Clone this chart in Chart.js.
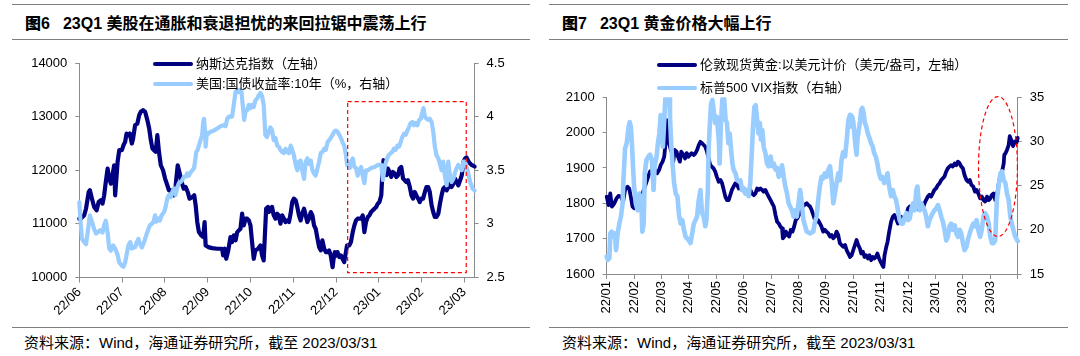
<!DOCTYPE html>
<html><head><meta charset="utf-8">
<script src="https://cdn.jsdelivr.net/npm/chart.js@4.4.1/dist/chart.umd.min.js"></script>
<style>
html,body{margin:0;padding:0;background:#fff;}
body{width:1080px;height:356px;position:relative;overflow:hidden;font-family:"Liberation Sans","Noto Sans CJK SC",sans-serif;color:#000;}
.rule{position:absolute;height:0;border-top:1.5px solid #7f7f7f;}
.title{position:absolute;font-weight:bold;font-size:16px;line-height:20px;white-space:nowrap;}
.title b{margin-right:13px;}
.foot{position:absolute;font-size:15px;line-height:18px;white-space:nowrap;}
canvas{position:absolute;}
.leg{position:absolute;font-size:13px;line-height:16px;white-space:nowrap;display:flex;align-items:center;}
.leg i{display:inline-block;width:40px;height:3.5px;border-radius:2px;margin-right:3px;}
</style></head>
<body>
<div class="rule" style="left:12px;width:518px;top:4px"></div>
<div class="title" style="left:25px;top:14px"><b>图6</b>23Q1 美股在通胀和衰退担忧的来回拉锯中震荡上行</div>
<div class="rule" style="left:12px;width:518px;top:39px"></div>
<div class="rule" style="left:12px;width:518px;top:327px"></div>
<div class="foot" style="left:24px;top:334px">资料来源：Wind，海通证券研究所，截至 2023/03/31</div>

<div class="rule" style="left:549px;width:519px;top:4px"></div>
<div class="title" style="left:562px;top:14px"><b>图7</b>23Q1 黄金价格大幅上行</div>
<div class="rule" style="left:549px;width:519px;top:39px"></div>
<div class="rule" style="left:549px;width:519px;top:327px"></div>
<div class="foot" style="left:562px;top:334px">资料来源：Wind，海通证券研究所，截至 2023/03/31</div>

<canvas id="c1" width="540" height="282" style="left:0;top:45px"></canvas>
<canvas id="c2" width="540" height="282" style="left:540px;top:45px"></canvas>

<div class="leg" style="left:153px;top:56px"><i style="background:#000080"></i>纳斯达克指数（左轴）</div>
<div class="leg" style="left:153px;top:76px"><i style="background:#99ccff"></i>美国:国债收益率:10年（%，右轴）</div>
<div class="leg" style="left:657px;top:57px"><i style="background:#000080"></i>伦敦现货黄金:以美元计价（美元/盎司，左轴）</div>
<div class="leg" style="left:657px;top:80px"><i style="background:#99ccff"></i>标普500 VIX指数（右轴）</div>

<script>
// ---------- Figure 6 data (x = trading day index from start) ----------
const leftTickDays = [0,21,42,63,84,105,126,147,168,189];
const leftTickLabels = ['22/06','22/07','22/08','22/09','22/10','22/11','22/12','23/01','23/02','23/03'];

const nasdaqDay = [0,0.8,2.4,3.3,4.6,5.2,6.2,7.3,8.5,9.5,10.6,11.4,12.2,13.0,13.9,14.7,15.5,16.3,17.1,17.6,18.8,19.6,20.9,21.7,22.5,23.2,24.1,24.8,25.8,26.4,27.4,28.5,29.4,30.2,31.3,32.3,33.4,34.3,35.1,35.9,36.7,37.5,38.3,39.1,40.0,41.1,42.1,43.2,44.0,45.3,46.5,47.3,48.3,49.3,50.2,51.2,52.2,53.2,54.1,55.5,56.4,57.1,57.9,58.7,59.9,60.8,61.5,62.0,63.3,65.2,67.7,70.1,70.6,71.4,72.1,73.1,74.2,75.0,75.8,76.7,77.5,78.3,79.1,79.9,80.7,81.6,82.4,83.2,84.0,84.8,85.6,86.4,87.7,88.9,89.7,90.5,91.0,91.7,92.6,93.0,93.8,94.6,95.4,96.3,97.1,97.9,98.7,99.6,100.4,101.2,102.0,102.9,103.7,104.5,105.3,106.2,107.0,107.8,108.6,109.4,110.3,111.1,111.9,112.7,113.6,114.4,115.2,116.0,116.9,117.7,118.5,119.3,120.2,121.0,121.8,122.6,123.4,124.3,124.8,125.4,126.1,126.7,127.6,128.4,129.2,130.0,130.7,131.4,132.5,133.3,134.2,135.0,135.8,136.6,138.3,139.1,139.9,140.7,141.6,142.4,143.2,144.0,144.9,145.7,146.5,147.3,148.2,148.6,149.3,150.1,150.8,151.4,152.3,153.1,153.9,154.7,155.6,156.4,157.2,158.0,158.9,159.7,160.5,161.3,162.2,163.0,163.8,164.6,165.4,166.3,167.1,167.9,168.7,169.6,170.4,171.2,172.0,172.9,173.7,174.5,175.3,176.2,177.0,177.8,178.6,179.4,180.3,181.1,181.9,182.7,183.6,184.4,185.2,186.0,186.9,187.7,188.5,189.3,190.0,191.2,192.5,194.0];
const nasdaqVal = [11097,11100,11160,11283,11595,11626,11470,11315,11252,11408,11440,11377,11533,11782,12031,11844,11750,11907,12093,11533,12156,12374,12374,12467,12530,12685,12654,12685,12498,12592,12841,12872,13028,13090,13121,13090,12935,12779,12561,12405,12374,12343,12654,12343,12093,12000,11844,11720,11626,11626,11533,11720,12093,11938,11782,11657,11688,11595,11470,11502,11533,11346,11034,10847,10785,10754,11034,10598,10567,10548,10536,10536,10411,10536,10349,10505,10754,10660,10785,10692,10847,10879,10910,11190,10972,11097,11097,11065,10972,10660,10349,10505,10536,10598,10411,10318,10723,11284,11315,11221,11252,11315,11159,11097,11190,11159,11003,11159,11097,11034,11065,11034,11190,11408,11470,11440,11315,11159,11065,11190,11284,11159,11034,11097,11221,11159,10972,10910,10723,10567,10505,10692,10536,10474,10474,10505,10411,10193,10349,10474,10411,10474,10380,10411,10349,10287,10443,10598,10598,10660,10847,10972,11065,11097,11097,11159,10847,11034,11128,11159,11221,11252,11284,11315,11377,11408,11533,11844,12187,12062,11907,12031,11969,11875,11969,11938,11875,11907,12031,12062,11844,11813,11782,11813,11688,11533,11470,11595,11533,11470,11408,11470,11470,11595,11688,11688,11595,11346,11221,11128,11128,11190,11377,11533,11657,11688,11626,11688,11750,11688,11750,11844,11782,11720,11813,11907,12156,12218,12240,12150,12100,12070];

const yieldDay = [0,0.5,1.3,2.4,3.3,4.1,5.2,6.2,7.3,8.2,9.0,10.1,11.4,12.2,13.0,13.9,14.7,15.5,16.6,17.6,18.8,19.6,20.9,21.7,22.5,23.3,24.1,25.0,25.8,26.6,27.4,28.2,29.0,29.8,30.7,31.8,32.6,33.9,34.7,35.6,36.4,37.2,37.8,38.8,39.5,40.4,41.6,42.4,43.2,44.0,44.9,45.7,46.5,47.3,48.1,48.9,49.7,50.6,51.4,52.2,53.0,53.8,54.6,55.5,56.3,56.8,57.4,58.1,58.7,59.5,60.3,60.8,61.2,61.7,62.0,62.5,63.3,64.4,66.1,67.7,69.3,70.9,71.8,72.6,73.4,75.0,75.8,76.7,77.5,78.3,79.1,79.6,80.2,80.9,81.6,82.4,83.2,84.0,84.8,85.6,86.4,87.3,88.1,88.9,89.7,90.5,91.3,92.1,93.0,93.8,94.6,95.4,96.3,97.1,97.9,98.7,99.6,100.4,101.2,102.0,102.9,103.7,104.5,105.3,106.2,107.0,107.8,108.6,109.4,110.3,111.1,111.9,112.7,113.6,114.4,115.2,116.0,116.9,117.7,118.5,119.3,120.2,121.0,121.8,122.6,123.4,124.3,125.1,125.9,126.7,127.6,128.4,129.2,130.0,130.9,131.4,132.0,132.7,133.3,134.2,135.0,135.8,136.6,137.4,138.3,139.1,139.9,140.7,141.6,143.2,144.9,146.5,148.2,149.0,149.5,150.1,151.1,151.8,152.8,153.6,154.4,155.2,156.1,156.9,157.7,158.5,159.4,160.2,161.0,161.8,162.6,163.5,164.3,165.1,165.9,166.8,167.6,168.2,168.9,169.6,170.4,171.2,172.0,172.9,173.7,174.5,175.3,176.2,177.0,177.8,178.6,179.4,180.3,181.1,181.9,182.7,183.6,184.4,185.2,186.0,186.9,187.7,188.5,189.3,190.5,192.0,193.0,194.0];
const yieldVal = [3.20,3.05,2.86,2.83,2.81,2.92,3.08,3.02,2.95,2.91,2.92,2.94,2.92,2.99,3.03,2.92,2.77,2.75,2.80,2.77,2.71,2.64,2.61,2.60,2.64,2.72,2.80,2.83,2.77,2.78,2.78,2.83,2.86,2.81,2.78,2.83,2.88,2.95,2.99,3.00,3.02,3.08,3.02,3.05,3.03,3.08,3.11,3.16,3.24,3.27,3.25,3.30,3.33,3.27,3.34,3.38,3.39,3.41,3.44,3.44,3.47,3.45,3.48,3.50,3.52,3.58,3.67,3.69,3.73,3.78,3.83,3.95,3.98,3.86,3.72,3.83,3.84,3.86,3.87,3.89,3.91,3.92,3.91,3.98,4.00,4.00,4.11,4.23,4.25,4.23,4.25,4.23,4.11,3.97,4.05,4.06,4.11,4.08,4.11,4.09,4.15,4.17,4.20,4.22,4.19,4.11,3.83,3.81,3.86,3.90,3.87,3.78,3.80,3.73,3.72,3.69,3.67,3.66,3.70,3.67,3.66,3.73,3.69,3.64,3.55,3.50,3.58,3.59,3.50,3.42,3.58,3.61,3.56,3.59,3.50,3.47,3.45,3.52,3.58,3.66,3.67,3.70,3.69,3.76,3.78,3.80,3.83,3.86,3.87,3.86,3.83,3.80,3.76,3.73,3.64,3.55,3.56,3.52,3.58,3.61,3.53,3.52,3.45,3.50,3.53,3.45,3.38,3.50,3.50,3.52,3.53,3.55,3.55,3.41,3.48,3.55,3.61,3.64,3.66,3.67,3.70,3.69,3.73,3.72,3.76,3.81,3.84,3.83,3.87,3.90,3.94,3.95,3.92,3.94,3.92,3.97,3.98,4.03,4.08,4.00,3.98,3.97,3.98,3.95,3.86,3.72,3.64,3.61,3.56,3.50,3.58,3.45,3.36,3.58,3.45,3.39,3.42,3.48,3.52,3.55,3.53,3.50,3.58,3.58,3.50,3.38,3.33,3.31];

// annotation box (in data units: trading days / Nasdaq level)
const boxDays = [131.7, 189.9];
const boxLevels = [10090, 13280];

// ---------- Figure 7 data (x = months since 2022-01) ----------
const rightTickMonths = [0,1,2,3,4,5,6,7,8,9,10,11,12,13,14,15];
const rightTickLabels = ['22/01','22/02','22/03','22/04','22/05','22/06','22/07','22/08','22/09','22/10','22/11','22/12','23/01','23/02','23/03',''];

const goldMonth = [0.00,0.07,0.13,0.19,0.28,0.36,0.43,0.52,0.60,0.67,0.76,0.82,0.88,0.94,1.00,1.06,1.13,1.22,1.32,1.45,1.58,1.65,1.71,1.78,1.84,1.91,1.97,2.04,2.10,2.16,2.19,2.22,2.28,2.34,2.37,2.43,2.48,2.55,2.60,2.67,2.72,2.80,2.86,2.92,2.98,3.04,3.10,3.18,3.24,3.30,3.36,3.42,3.48,3.54,3.60,3.66,3.69,3.78,3.90,3.96,4.02,4.09,4.15,4.21,4.27,4.33,4.39,4.45,4.51,4.57,4.63,4.70,4.76,4.82,4.88,4.94,5.00,5.06,5.12,5.18,5.24,5.30,5.37,5.43,5.49,5.55,5.61,5.67,5.73,5.79,5.85,5.91,5.98,6.04,6.10,6.16,6.22,6.28,6.34,6.40,6.43,6.48,6.54,6.60,6.66,6.72,6.78,6.84,6.90,6.96,7.02,7.09,7.15,7.21,7.30,7.36,7.42,7.48,7.54,7.60,7.66,7.72,7.78,7.84,7.90,7.96,8.02,8.09,8.15,8.21,8.27,8.33,8.39,8.45,8.51,8.57,8.63,8.70,8.76,8.82,8.88,8.94,9.00,9.06,9.12,9.18,9.24,9.29,9.35,9.41,9.47,9.53,9.59,9.65,9.71,9.76,9.82,9.88,9.94,10.00,10.06,10.10,10.14,10.19,10.25,10.31,10.38,10.44,10.50,10.56,10.63,10.69,10.75,10.81,10.88,10.94,11.00,11.06,11.12,11.18,11.24,11.30,11.35,11.42,11.48,11.54,11.60,11.66,11.72,11.78,11.84,11.90,11.96,12.02,12.09,12.15,12.21,12.27,12.33,12.39,12.45,12.51,12.57,12.63,12.70,12.76,12.82,12.88,12.94,13.00,13.06,13.13,13.19,13.25,13.31,13.38,13.44,13.50,13.56,13.63,13.69,13.75,13.81,13.88,13.94,14.00,14.06,14.12,14.18,14.24,14.30,14.37,14.43,14.49,14.51,14.55,14.61,14.67,14.71,14.76,14.83,14.90,14.96,15.00];
const goldVal = [1819,1795,1828,1791,1800,1814,1821,1819,1805,1838,1847,1842,1819,1791,1786,1814,1795,1819,1830,1860,1890,1894,1899,1890,1885,1894,1908,1918,1932,1979,2035,1989,1970,1951,1946,1918,1951,1946,1932,1918,1946,1937,1927,1942,1932,1937,1942,1937,1942,1951,1965,1974,1970,1965,1960,1946,1937,1908,1899,1890,1875,1861,1866,1857,1838,1819,1809,1809,1823,1838,1847,1857,1852,1842,1847,1838,1838,1828,1828,1833,1838,1828,1823,1828,1842,1838,1842,1838,1833,1838,1828,1819,1809,1800,1791,1767,1748,1743,1734,1729,1701,1706,1720,1710,1706,1725,1720,1734,1753,1758,1767,1781,1791,1795,1800,1795,1791,1781,1767,1753,1748,1752,1743,1734,1720,1725,1720,1715,1706,1710,1701,1706,1720,1710,1687,1682,1677,1682,1667,1658,1648,1653,1668,1682,1696,1682,1672,1658,1663,1648,1653,1644,1653,1639,1648,1644,1648,1658,1644,1634,1625,1620,1653,1672,1691,1720,1748,1762,1767,1757,1743,1748,1762,1748,1757,1767,1786,1791,1786,1781,1786,1800,1786,1781,1791,1786,1800,1810,1819,1824,1819,1828,1838,1842,1852,1857,1866,1871,1876,1890,1899,1904,1908,1904,1913,1908,1918,1913,1904,1899,1880,1866,1861,1866,1852,1847,1833,1838,1828,1814,1819,1809,1805,1819,1809,1814,1824,1828,1809,1819,1852,1880,1890,1913,1937,1941,1951,1965,1990,1980,1962,1975,1972,1985];

const vixMonth = [0.00,0.04,0.10,0.13,0.18,0.24,0.30,0.34,0.40,0.46,0.52,0.58,0.61,0.67,0.73,0.80,0.84,0.88,0.92,0.96,1.00,1.06,1.13,1.19,1.26,1.30,1.35,1.39,1.45,1.52,1.58,1.65,1.71,1.75,1.82,1.87,1.92,1.97,2.01,2.05,2.10,2.13,2.17,2.22,2.28,2.31,2.36,2.41,2.46,2.52,2.58,2.64,2.70,2.76,2.82,2.88,2.94,3.00,3.06,3.12,3.18,3.24,3.30,3.36,3.42,3.48,3.54,3.60,3.64,3.69,3.72,3.76,3.81,3.86,3.90,3.96,4.02,4.09,4.12,4.17,4.22,4.27,4.30,4.34,4.39,4.44,4.49,4.54,4.59,4.63,4.70,4.76,4.82,4.88,4.94,5.00,5.06,5.12,5.18,5.24,5.30,5.34,5.39,5.44,5.49,5.54,5.59,5.63,5.68,5.73,5.79,5.85,5.91,5.98,6.04,6.10,6.16,6.22,6.28,6.34,6.40,6.46,6.52,6.58,6.64,6.70,6.76,6.82,6.88,6.94,7.00,7.06,7.12,7.18,7.30,7.42,7.54,7.60,7.66,7.72,7.78,7.84,7.90,7.96,8.02,8.09,8.15,8.21,8.27,8.33,8.39,8.45,8.51,8.57,8.63,8.70,8.76,8.82,8.88,8.91,8.96,9.00,9.04,9.07,9.12,9.15,9.20,9.25,9.29,9.33,9.38,9.42,9.47,9.53,9.59,9.65,9.71,9.76,9.82,9.88,9.94,10.00,10.06,10.13,10.19,10.25,10.31,10.38,10.44,10.50,10.56,10.63,10.69,10.75,10.81,10.88,10.94,11.00,11.06,11.12,11.18,11.24,11.30,11.34,11.37,11.42,11.48,11.54,11.60,11.66,11.72,11.78,11.84,11.90,11.96,12.02,12.09,12.15,12.21,12.27,12.33,12.39,12.45,12.51,12.57,12.63,12.70,12.76,12.82,12.88,12.94,13.00,13.06,13.13,13.19,13.25,13.31,13.38,13.44,13.50,13.56,13.63,13.69,13.75,13.81,13.88,13.94,14.00,14.06,14.12,14.18,14.24,14.30,14.37,14.43,14.49,14.55,14.61,14.67,14.73,14.80,14.90,15.00];
const vixVal = [17.0,16.6,16.8,19.6,19.8,19.2,19.6,17.7,19.6,20.7,21.5,23.0,25.6,29.2,29.8,31.7,32.2,31.7,29.8,27.2,24.9,23.0,22.2,24.1,23.4,19.8,20.7,26.4,27.9,28.3,28.5,27.9,24.5,27.2,28.3,29.8,30.9,33.0,31.3,29.4,32.4,34.3,36.0,36.5,36.0,32.8,29.4,27.2,25.3,24.1,23.8,21.7,20.7,21.1,20.0,19.2,19.0,18.8,18.5,19.6,20.7,21.1,21.5,23.4,24.5,21.9,21.5,20.4,21.1,24.5,29.0,31.7,34.3,34.7,33.6,32.1,32.8,30.2,27.5,32.1,34.7,35.5,34.3,32.4,32.1,29.8,30.9,29.0,27.5,26.8,26.4,25.6,25.5,25.6,24.5,24.7,24.1,24.5,23.8,25.3,29.0,31.7,33.9,34.1,32.4,30.9,32.1,30.2,31.3,29.4,28.7,27.5,27.2,28.3,27.2,27.5,26.8,27.0,26.0,26.4,27.3,26.0,24.9,24.1,23.0,22.6,22.2,21.5,22.2,21.5,23.0,24.5,23.0,21.1,19.8,19.6,19.8,20.9,21.5,23.4,24.9,26.0,25.8,26.4,26.0,26.8,27.2,25.5,23.0,24.1,25.3,26.4,25.6,27.9,28.8,28.3,30.2,32.4,33.0,31.7,32.8,32.2,30.9,29.8,28.5,30.2,31.3,32.4,33.6,33.8,33.2,32.1,31.7,30.9,30.4,29.8,29.4,28.7,28.3,27.5,26.4,25.8,26.0,25.3,25.8,26.4,24.9,23.8,24.5,23.8,23.4,22.2,21.1,20.7,20.7,21.5,21.9,21.1,21.3,22.4,23.0,22.2,24.5,24.9,23.8,22.2,23.0,22.6,22.2,21.5,20.4,21.1,21.5,21.9,22.2,22.4,22.8,22.2,21.5,20.9,20.0,18.8,19.2,20.4,20.7,20.0,20.5,19.6,19.2,20.0,19.6,18.5,17.7,18.1,19.0,19.6,20.2,20.7,20.4,21.1,20.0,19.2,20.0,21.5,21.9,21.5,20.7,19.2,18.5,18.5,18.8,23.4,24.9,26.4,26.6,25.6,25.3,24.1,23.4,21.5,20.5,19.3,18.7];

// annotation ellipse bounding box (months / gold level)
const ovalMonths = [13.57, 14.99];
const ovalLevels = [1706, 2102];

// ---------- styling ----------
const NAVY = '#000080', LIGHT = '#99ccff', AXIS = '#8c8c8c';
const FONT = { family: 'Liberation Sans, Arial, sans-serif', size: 13 };
const pts = (xs, ys) => xs.map((x, i) => ({ x, y: ys[i] }));

const redMarks = {
  id: 'redMarks',
  afterDatasetsDraw(chart, args, o) {
    const ctx = chart.ctx, xs = chart.scales.x, ys = chart.scales.y;
    ctx.save();
    ctx.strokeStyle = '#ff0000'; ctx.lineWidth = 1.2; ctx.setLineDash([4, 3]);
    if (o.rect) {
      const x0 = xs.getPixelForValue(o.rect.x[0]), x1 = xs.getPixelForValue(o.rect.x[1]);
      const y0 = ys.getPixelForValue(o.rect.y[1]), y1 = ys.getPixelForValue(o.rect.y[0]);
      ctx.strokeRect(x0, y0, x1 - x0, y1 - y0);
    }
    if (o.oval) {
      const x0 = xs.getPixelForValue(o.oval.x[0]), x1 = xs.getPixelForValue(o.oval.x[1]);
      const y0 = ys.getPixelForValue(o.oval.y[1]), y1 = ys.getPixelForValue(o.oval.y[0]);
      ctx.beginPath();
      ctx.ellipse((x0 + x1) / 2, (y0 + y1) / 2, (x1 - x0) / 2, (y1 - y0) / 2, 0, 0, Math.PI * 2);
      ctx.stroke();
    }
    ctx.restore();
  }
};

function axisY(pos, min, max, step, width, pad) {
  return {
    type: 'linear', position: pos, min, max,
    afterFit: s => { s.width = width; },
    grid: { drawOnChartArea: false, drawTicks: true, tickLength: 4, color: AXIS },
    border: { display: true, color: AXIS, width: 1 },
    ticks: { stepSize: step, font: FONT, color: '#000', padding: pad, callback: v => String(v) }
  };
}
function axisX(min, max, tickVals, tickLabels, rot, height) {
  return {
    type: 'linear', position: 'bottom', min, max,
    afterFit: s => { s.height = height; },
    afterBuildTicks: s => { s.ticks = tickVals.map(v => ({ value: v })); },
    grid: { drawOnChartArea: false, drawTicks: true, tickLength: 5, color: AXIS },
    border: { display: true, color: AXIS, width: 1 },
    ticks: { autoSkip: false, minRotation: rot, maxRotation: rot, font: FONT, color: '#000', padding: 2,
      callback: (v, i) => tickLabels[i] }
  };
}
const lineDs = (label, data, color, axis, order, w) => ({
  label, data, borderColor: color, backgroundColor: color, borderWidth: w,
  pointRadius: 0, tension: 0, yAxisID: axis, order,
  borderJoinStyle: 'round', borderCapStyle: 'round', clip: { left: 4, right: 4, top: 0, bottom: 4 }
});

new Chart(document.getElementById('c1'), {
  type: 'line',
  data: { datasets: [
    lineDs('纳斯达克指数（左轴）', pts(nasdaqDay, nasdaqVal), NAVY, 'y', 1, 4.2),
    lineDs('美国:国债收益率:10年（%，右轴）', pts(yieldDay, yieldVal), LIGHT, 'y1', 0, 4.2)
  ]},
  options: {
    responsive: false, animation: false, devicePixelRatio: 1,
    layout: { padding: { top: 18, left: 0, right: 0, bottom: 0 } },
    plugins: { legend: { display: false }, tooltip: { enabled: false },
      redMarks: { rect: { x: boxDays, y: boxLevels } } },
    scales: {
      x: axisX(0, 194, leftTickDays, leftTickLabels, 45, 49.5),
      y: axisY('left', 10000, 14000, 1000, 79.3, 8),
      y1: axisY('right', 2.5, 4.5, 0.5, 65.4, 8)
    }
  },
  plugins: [redMarks]
});

new Chart(document.getElementById('c2'), {
  type: 'line',
  data: { datasets: [
    lineDs('伦敦现货黄金:以美元计价（美元/盎司，左轴）', pts(goldMonth, goldVal), NAVY, 'y', 1, 3.8),
    lineDs('标普500 VIX指数（右轴）', pts(vixMonth, vixVal), LIGHT, 'y1', 0, 4.6)
  ]},
  options: {
    responsive: false, animation: false, devicePixelRatio: 1,
    layout: { padding: { top: 52.3, left: 0, right: 0, bottom: 0 } },
    plugins: { legend: { display: false }, tooltip: { enabled: false },
      redMarks: { oval: { x: ovalMonths, y: ovalLevels } } },
    scales: {
      x: axisX(0, 15, rightTickMonths, rightTickLabels, 90, 53),
      y: axisY('left', 1600, 2100, 100, 66.7, 8),
      y1: axisY('right', 15, 35, 5, 62.3, 8)
    }
  },
  plugins: [redMarks]
});
</script>
</body></html>
